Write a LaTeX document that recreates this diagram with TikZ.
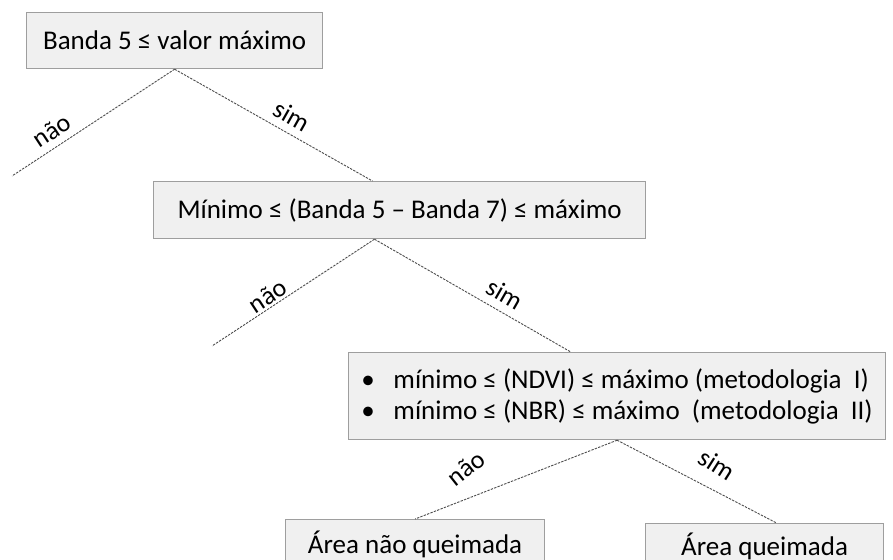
\documentclass[tikz,border=0pt]{standalone}
\usepackage{fontspec}
\setmainfont{Carlito}
\usetikzlibrary{positioning,calc}

\begin{document}
\begin{tikzpicture}[x=1pt, y=-1pt,
    caixa/.style={draw=black!38, fill=black!6, line width=1.2pt, inner sep=0pt,
      anchor=north west, font=\fontsize{27}{31}\selectfont},
    ramo/.style={draw=black!70, line width=0.9pt, dash pattern=on 2.4pt off 1.2pt},
    rotulo/.style={font=\fontsize{26}{30}\selectfont, sloped, above, inner sep=2pt}]
  \clip (0,0) rectangle (893,559);
  % caixas de decisao
  \node[caixa, minimum width=296pt, minimum height=56pt] (banda) at (26,12)
    {Banda 5 ≤ valor máximo};
  \node[caixa, minimum width=492pt, minimum height=57pt] (minimo) at (153,181)
    {Mínimo ≤ (Banda 5 – Banda 7) ≤ máximo};
  \node[caixa, minimum width=537pt, minimum height=87pt, align=left] (indices) at (348,352)
    {\makebox[32pt][l]{•}mínimo ≤ (NDVI) ≤ máximo (metodologia\ \ I)\\
     \makebox[32pt][l]{•}mínimo ≤ (NBR) ≤ máximo\ \ (metodologia\ \ II)};
  \node[caixa, minimum width=259pt, minimum height=50pt] (naoqueim) at (285,519)
    {Área não queimada};
  \node[caixa, minimum width=238pt, minimum height=46pt] (queim) at (645,523)
    {Área queimada};
  % pontos de ligacao
  \coordinate (fim1) at (12,176);
  \coordinate (fim2) at (212,346);
  \coordinate (minimo-topo) at ($(minimo.north west)!0.445!(minimo.north east)$);
  \coordinate (minimo-base) at ($(minimo.south west)!0.449!(minimo.south east)$);
  \coordinate (indices-topo) at ($(indices.north west)!0.414!(indices.north east)$);
  \coordinate (queim-topo) at ($(queim.north west)!0.55!(queim.north east)$);
  % ramos
  \draw[ramo] (banda.south) -- node[rotulo, pos=0.70, above=5pt] {não} (fim1);
  \draw[ramo] (banda.south) -- node[rotulo, pos=0.55, above=6pt] {sim} (minimo-topo);
  \draw[ramo] (minimo-base) -- node[rotulo, pos=0.62] {não} (fim2);
  \draw[ramo] (minimo-base) -- node[rotulo, pos=0.62, above=6pt] {sim} (indices-topo);
  \draw[ramo] (indices.south) -- node[rotulo, pos=0.68, rotate=17, above=18pt] {não} (naoqueim.north);
  \draw[ramo] (indices.south) -- node[rotulo, pos=0.55, rotate=-5, above=13pt] {sim} (queim-topo);
\end{tikzpicture}
\end{document}
